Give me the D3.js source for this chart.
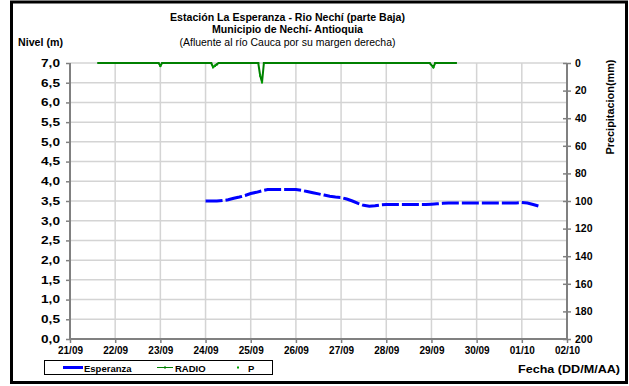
<!DOCTYPE html>
<html><head><meta charset="utf-8">
<script src="https://cdn.jsdelivr.net/npm/d3@7"></script>
<style>
body{margin:0;background:#fff;}
text{font-family:"Liberation Sans",Arial,sans-serif;}
</style></head>
<body><svg id="c" width="629" height="386"></svg>
<script>
// ---- data ----
const levelTimes = ["24/09 00","24/09 03","24/09 06","24/09 09","24/09 12","24/09 15","24/09 18","24/09 21",
 "25/09 00","25/09 03","25/09 06","25/09 09","25/09 12","25/09 15","25/09 18","25/09 21",
 "26/09 00","26/09 03","26/09 06","26/09 09","26/09 12","26/09 15","26/09 18","26/09 21",
 "27/09 00","27/09 03","27/09 06","27/09 09","27/09 12","27/09 15","27/09 18","27/09 21",
 "28/09 00","28/09 03","28/09 06","28/09 09","28/09 12","28/09 15","28/09 18","28/09 21",
 "29/09 00","29/09 03","29/09 06","29/09 09","29/09 12","29/09 15","29/09 18","29/09 21",
 "30/09 00","30/09 03","30/09 06","30/09 09","30/09 12","30/09 15","30/09 18","30/09 21",
 "01/10 00","01/10 03","01/10 06","01/10 09"];
const levelValues = [3.50,3.50,3.50,3.51,3.53,3.57,3.60,3.64,
 3.69,3.72,3.76,3.79,3.79,3.79,3.79,3.79,
 3.79,3.77,3.74,3.71,3.68,3.65,3.62,3.60,
 3.59,3.55,3.50,3.44,3.39,3.37,3.38,3.40,
 3.41,3.41,3.41,3.41,3.41,3.41,3.41,3.41,
 3.42,3.43,3.44,3.45,3.45,3.45,3.45,3.45,
 3.45,3.45,3.45,3.45,3.45,3.45,3.45,3.45,
 3.46,3.45,3.41,3.37];
const radioTimes = ["21/09 15","22/09 23","23/09 00","23/09 01","24/09 03","24/09 04","24/09 05","24/09 06","24/09 07",
 "25/09 04","25/09 05","25/09 06","25/09 07","28/09 23","29/09 01","29/09 02","29/09 13"];
const radioValues = [0,0,2,0,0,3,2,1,0,0,9,14,0,0,3,0,0];
const pTimes = ["23/09 00","24/09 04","24/09 05","25/09 05","25/09 06","29/09 01"];
const pValues = [2,3,2,9,14,3];
const dateTicks = ["21/09","22/09","23/09","24/09","25/09","26/09","27/09","28/09","29/09","30/09","01/10","02/10"];
const levelTicks = [0,0.5,1,1.5,2,2.5,3,3.5,4,4.5,5,5.5,6,6.5,7];
const precipTicks = [0,20,40,60,80,100,120,140,160,180,200];
const titleLines = ["Estación La Esperanza - Rio Nechí  (parte Baja)","Municipio de Nechí- Antioquia","(Afluente al río Cauca por su margen derecha)"];

// ---- layout ----
const svg = d3.select("#c");
const L=70, R=567, T=63, B=339;
const parseT = d3.timeParse("%d/%m %H");
const parseD = d3.timeParse("%d/%m");
const x = d3.scaleTime().domain([parseD("21/09"), parseD("02/10")]).range([L,R]);
const y = d3.scaleLinear().domain([0,7]).range([B,T]);
const yp = d3.scaleLinear().domain([0,200]).range([T,B]);

// frame
svg.append("rect").attr("x",11.5).attr("y",2).attr("width",615).attr("height",380.5)
  .attr("fill","#fff").attr("stroke","#000").attr("stroke-width",3);

// grid
const g = svg.append("g");
g.selectAll(".hg").data(levelTicks.slice(1)).join("line")
 .attr("x1",L).attr("x2",R).attr("y1",d=>y(d)).attr("y2",d=>y(d))
 .attr("stroke","#d4d4d4").attr("stroke-width",1.5);
g.selectAll(".vg").data(dateTicks.slice(1,-1)).join("line")
 .attr("x1",d=>x(parseD(d))).attr("x2",d=>x(parseD(d))).attr("y1",T).attr("y2",B)
 .attr("stroke","#d4d4d4").attr("stroke-width",1.5);

// axes
const axCol="#808080";
const ly = svg.append("g").attr("transform",`translate(${L},0)`)
 .call(d3.axisLeft(y).tickValues(levelTicks).tickSize(4).tickFormat(d=>d3.format(".1f")(d).replace(".",",")));
const ry = svg.append("g").attr("transform",`translate(${R},0)`)
 .call(d3.axisRight(yp).tickValues(precipTicks).tickSize(4));
const bx = svg.append("g").attr("transform",`translate(0,${B})`)
 .call(d3.axisBottom(x).tickValues(dateTicks.map(parseD)).tickSize(4).tickFormat(d3.timeFormat("%d/%m")));
ry.selectAll(".tick line").attr("x1",-4).attr("x2",4);
[ly,ry,bx].forEach(a=>{
  a.attr("font-family",null).attr("font-size",null);
  a.select(".domain").attr("stroke",axCol).attr("stroke-width",2);
  a.selectAll(".tick line").attr("stroke",axCol).attr("stroke-width",1.5);
  a.selectAll("text").attr("fill","#000")
   .style("font-size","10.5px").style("font-weight","bold")
   .style("font-family","'Liberation Sans',Arial,sans-serif");
});
ly.select(".domain").attr("d",`M0,${B}V${T}`);
ry.select(".domain").attr("d",`M0,${B}V${T}`);
bx.select(".domain").attr("d",`M${L},0H${R}`);
ly.selectAll("text").attr("x",-10).attr("textLength",19).attr("lengthAdjust","spacingAndGlyphs");
ry.selectAll("text").attr("x",8);
bx.selectAll("text").attr("y",8).attr("textLength",25).attr("lengthAdjust","spacingAndGlyphs");

// level line
const lvl = levelTimes.map((t,i)=>({t:parseT(t),v:levelValues[i]}));
svg.append("path").datum(lvl)
 .attr("d",d3.line().x(d=>x(d.t)).y(d=>y(d.v)))
 .attr("fill","none").attr("stroke","#0000ff").attr("stroke-width",3)
 .attr("stroke-dasharray","17,3");

// radio line
const rad = radioTimes.map((t,i)=>({t:parseT(t),v:radioValues[i]}));
svg.append("path").datum(rad)
 .attr("d",d3.line().x(d=>x(d.t)).y(d=>yp(d.v)))
 .attr("fill","none").attr("stroke","#008000").attr("stroke-width",2);
svg.selectAll(".rp").data(rad).join("rect")
 .attr("x",d=>x(d.t)-1).attr("y",d=>yp(d.v)-1).attr("width",2).attr("height",2).attr("fill","#008000");
const pp = pTimes.map((t,i)=>({t:parseT(t),v:pValues[i]}));
svg.selectAll(".pp").data(pp).join("rect")
 .attr("x",d=>x(d.t)-1).attr("y",d=>yp(d.v)-1).attr("width",2).attr("height",2).attr("fill","#00a000");

// titles
const tw=[235,151,216];
titleLines.forEach((s,i)=>{
  svg.append("text").attr("x",287.5).attr("y",[21,33,46][i]).attr("text-anchor","middle")
   .attr("font-size",10.5).attr("font-weight",i<2?"bold":"normal")
   .attr("textLength",tw[i]).attr("lengthAdjust","spacingAndGlyphs").text(s);
});
svg.append("text").attr("x",18).attr("y",46).attr("font-size",10.5).attr("font-weight","bold")
 .attr("textLength",45).attr("lengthAdjust","spacingAndGlyphs").text("Nivel (m)");
svg.append("text").attr("transform","translate(614,107) rotate(-90)").attr("text-anchor","middle")
 .attr("font-size",10.5).attr("font-weight","bold").attr("textLength",95).attr("lengthAdjust","spacingAndGlyphs")
 .text("Precipitacion(mm)");
svg.append("text").attr("x",620).attr("y",373).attr("text-anchor","end")
 .attr("font-size",10.5).attr("font-weight","bold").attr("textLength",102).attr("lengthAdjust","spacingAndGlyphs")
 .text("Fecha (DD/M/AA)");

// legend
const lg = svg.append("g");
lg.append("rect").attr("x",44.5).attr("y",360.5).attr("width",228).attr("height",14)
 .attr("fill","#fff").attr("stroke","#000").attr("stroke-width",1);
lg.append("line").attr("x1",63).attr("x2",83).attr("y1",367.5).attr("y2",367.5).attr("stroke","#0000ff").attr("stroke-width",3);
lg.append("text").attr("x",84).attr("y",371.5).attr("font-size",9.5).attr("font-weight","bold").text("Esperanza");
lg.append("line").attr("x1",157).attr("x2",173).attr("y1",367.5).attr("y2",367.5).attr("stroke","#008000").attr("stroke-width",1);
lg.append("rect").attr("x",164).attr("y",366.5).attr("width",2).attr("height",2).attr("fill","#008000");
lg.append("text").attr("x",175).attr("y",371.5).attr("font-size",9.5).attr("font-weight","bold").text("RADIO");
lg.append("rect").attr("x",237).attr("y",366.5).attr("width",2).attr("height",2).attr("fill","#00a000");
lg.append("text").attr("x",248).attr("y",371.5).attr("font-size",9.5).attr("font-weight","bold").text("P");
</script></body></html>
